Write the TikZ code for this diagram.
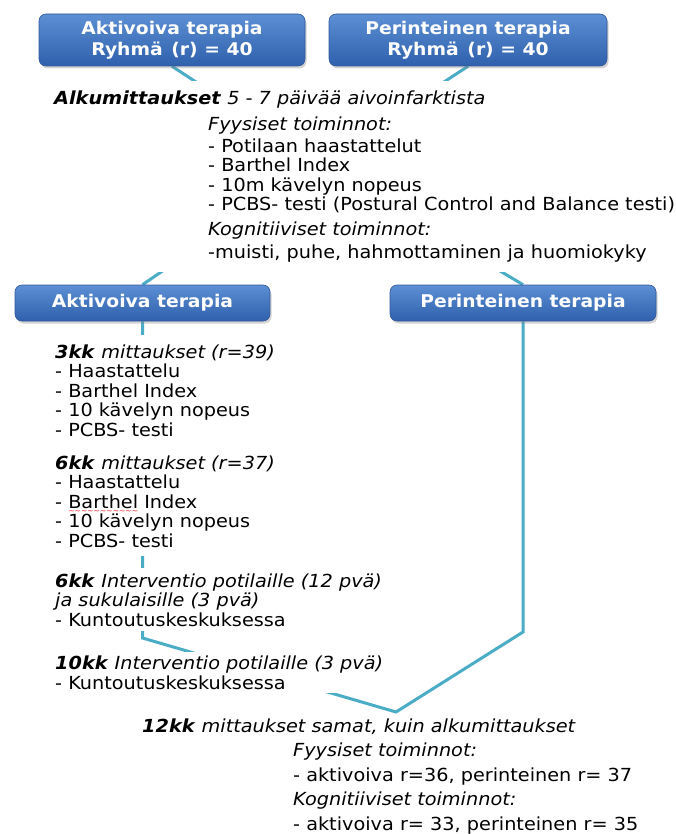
\documentclass[tikz,border=0pt]{standalone}
\usepackage{fontspec}
\setmainfont{DejaVu Sans}[FakeStretch=1.07,BoldFont={DejaVu Sans Bold},ItalicFont={DejaVu Sans Oblique},BoldItalicFont={DejaVu Sans Bold Oblique}]
\usetikzlibrary{shadows}
\definecolor{conn}{RGB}{75,172,198}
\definecolor{boxtop}{RGB}{92,143,212}
\definecolor{boxbot}{RGB}{47,96,172}
\definecolor{boxline}{RGB}{50,88,155}
\newsavebox\wavebox
\newcommand\redwave[1]{\sbox\wavebox{#1}\rlap{\raisebox{-5pt}[0pt][0pt]{\textcolor{red}{\fontsize{7}{7}\selectfont\hbox to\wd\wavebox{\xleaders\hbox{\char"007E}\hfil}}}}#1}
\pgfdeclarelayer{bg}
\pgfsetlayers{bg,main}
\begin{document}
\begin{tikzpicture}[x=1pt,y=-1pt,
  bluebox/.style={rounded corners=7pt, draw=boxline, line width=0.6pt,
    top color=boxtop, bottom color=boxbot, text=white, inner sep=0pt,
    font=\fontsize{17.5}{20.5}\selectfont\bfseries, align=center,
    drop shadow={opacity=0.35,shadow xshift=1.5pt,shadow yshift=-2.5pt}},
  txt/.style={fill=white, align=left, anchor=base west, inner xsep=3pt,
    font=\fontsize{18}{19.5}\selectfont, text=black},
  link/.style={draw=conn, line width=3pt, line join=miter}]
\useasboundingbox (0,0) rectangle (676,834);

% boxes
\node[bluebox, minimum width=266pt, minimum height=52pt] (b1) at (172,40)
  {Aktivoiva terapia\\Ryhmä\enspace(r) = 40};
\node[bluebox, minimum width=278pt, minimum height=52pt] (b2) at (468,40)
  {Perinteinen terapia\\Ryhmä\enspace(r) = 40};
\node[bluebox, minimum width=255pt, minimum height=36pt] (b3) at (142.5,303)
  {Aktivoiva terapia};
\node[bluebox, minimum width=266pt, minimum height=36pt] (b4) at (523,303)
  {Perinteinen terapia};

% text blocks (anchor = baseline of the last line)
\node[txt, inner ysep=10pt] (alku) at (51,258)
  {\textbf{\textit{Alkumittaukset}} \textit{5 - 7 päivää aivoinfarktista}\\[6.5pt]
   \hspace*{154pt}\textit{Fyysiset toiminnot:}\\[2.5pt]
   \hspace*{154pt}- Potilaan haastattelut\\
   \hspace*{154pt}- Barthel Index\\
   \hspace*{154pt}- 10m kävelyn nopeus\\
   \hspace*{154pt}- PCBS- testi (Postural Control and Balance testi)\\[5.5pt]
   \hspace*{154pt}\textit{Kognitiiviset toiminnot:}\\[2.5pt]
   \hspace*{154pt}-muisti, puhe, hahmottaminen ja huomiokyky};

\node[txt, inner ysep=9pt] (mitt) at (52,547)
  {\textbf{\textit{3kk}} \textit{mittaukset (r=39)}\\
   - Haastattelu\\
   - Barthel Index\\
   - 10 kävelyn nopeus\\
   - PCBS- testi\\[13.5pt]
   \textbf{\textit{6kk}} \textit{mittaukset (r=37)}\\
   - Haastattelu\\
   - \redwave{Barthel} Index\\
   - 10 kävelyn nopeus\\
   - PCBS- testi};

\node[txt, inner ysep=5pt] (interv) at (52,626)
  {\textbf{\textit{6kk}} \textit{Interventio potilaille (12 pvä)}\\
   \textit{ja sukulaisille (3 pvä)}\\
   - Kuntoutuskeskuksessa};

\node[txt, inner ysep=4pt] (kk10) at (52,689)
  {\textbf{\textit{10kk}} \textit{Interventio potilaille (3 pvä)}\\
   - Kuntoutuskeskuksessa};

\node[txt, inner ysep=1pt] (kk12) at (139,830)
  {\textbf{\textit{12kk}} \textit{mittaukset samat, kuin alkumittaukset}\\[5pt]
   \hspace*{151pt}\textit{Fyysiset toiminnot:}\\[5pt]
   \hspace*{151pt}- aktivoiva r=36, perinteinen r= 37\\[5pt]
   \hspace*{151pt}\textit{Kognitiiviset toiminnot:}\\[5pt]
   \hspace*{151pt}- aktivoiva r= 33, perinteinen r= 35};

% connectors
\begin{pgfonlayer}{bg}
\coordinate (hub) at (320,163);
\coordinate (cl) at (142.5,638);
\coordinate (cr) at (523,632);
\coordinate (vtx) at (396,712);
\draw[link] (b1.south) -- (hub) -- (b3.north);
\draw[link] (b2.south) -- (hub) -- (b4.north);
\draw[link] (b3.south) -- (cl) -- (vtx) -- (cr) -- (b4.south);
\end{pgfonlayer}
\end{tikzpicture}
\end{document}
